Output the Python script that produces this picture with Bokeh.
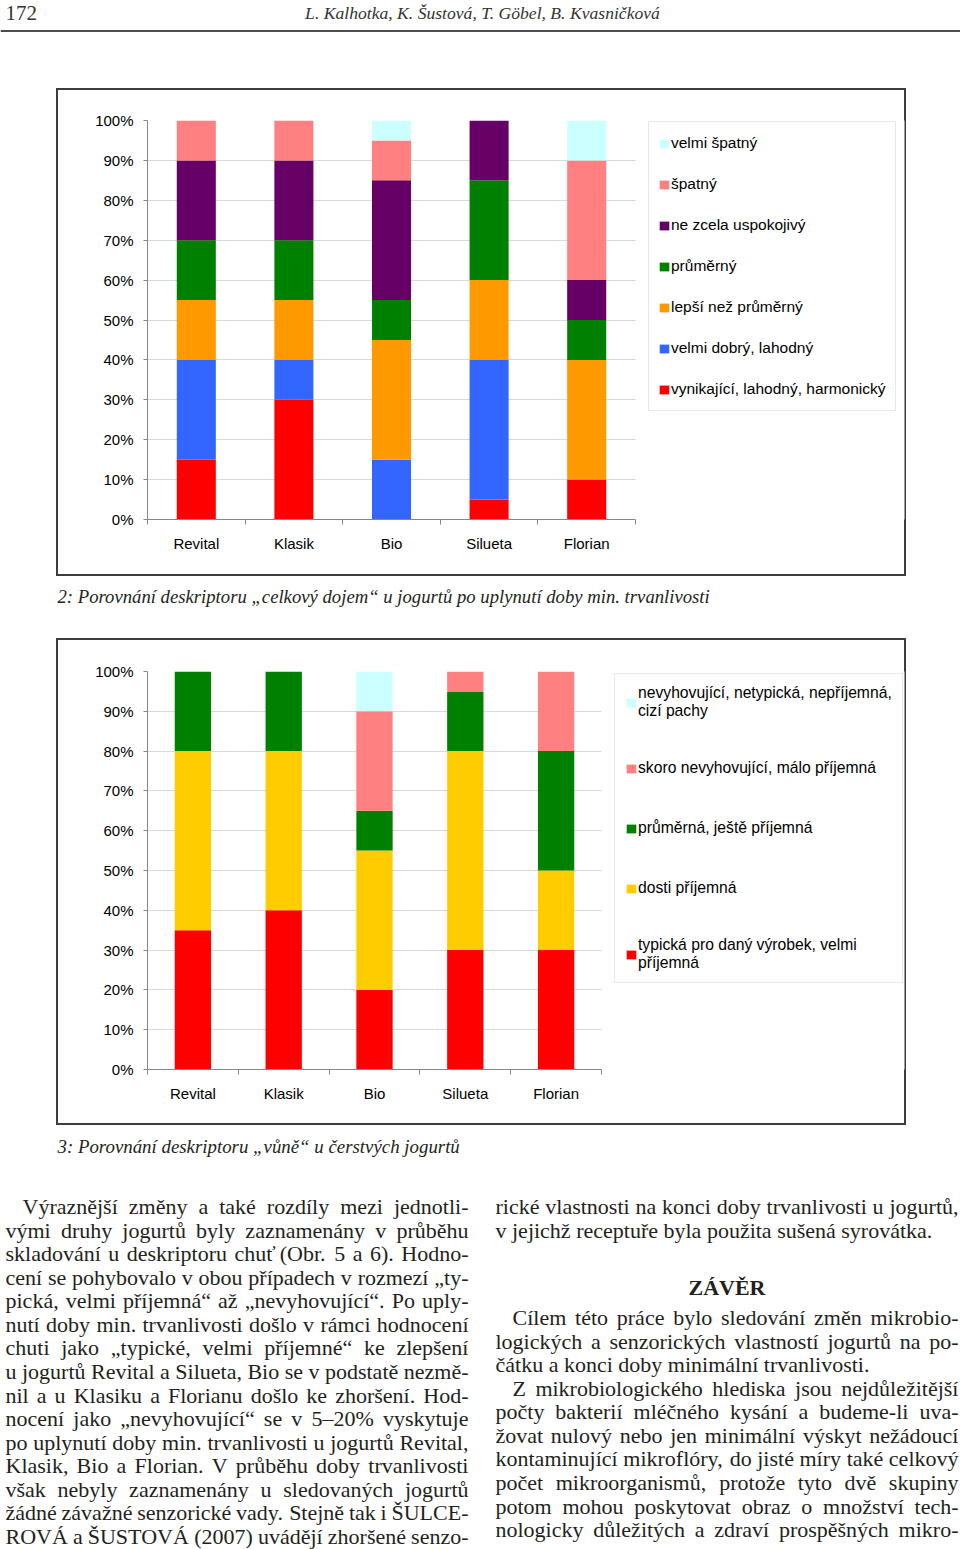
import unicodedata
from bokeh.plotting import figure
from bokeh.models import (Range1d, FixedTicker, PrintfTickFormatter, CustomJSTickFormatter,
                          Legend, LegendItem, Spacer, ColumnDataSource, Span, BoxAnnotation)
from bokeh.layouts import column, row
from bokeh.embed import file_html
from bokeh.resources import INLINE
from bokeh.core.properties import value

# ---------------- data ----------------
brands = ["Revital", "Klasik", "Bio", "Silueta", "Florian"]
pct_ticks = [0, 10, 20, 30, 40, 50, 60, 70, 80, 90, 100]

# Obr. 2 - "celkový dojem" po uplynutí doby min. trvanlivosti (% hodnocení, zdola nahoru)
dojem_labels = ["vynikající, lahodný, harmonický", "velmi dobrý, lahodný", "lepší než průměrný",
                "průměrný", "ne zcela uspokojivý", "špatný", "velmi špatný"]
dojem_colors = ["#FF0000", "#3366FF", "#FF9900", "#008000", "#660066", "#FF8080", "#CCFFFF"]
dojem_vynikajici = [15, 30, 0, 5, 10]
dojem_velmi_dobry = [25, 10, 15, 35, 0]
dojem_lepsi = [15, 15, 30, 20, 30]
dojem_prumerny = [15, 15, 10, 25, 10]
dojem_ne_zcela = [20, 20, 30, 15, 10]
dojem_spatny = [10, 10, 10, 0, 30]
dojem_velmi_spatny = [0, 0, 5, 0, 10]

# Obr. 3 - "vůně" u čerstvých jogurtů
vune_labels = ["typická pro daný výrobek, velmi\npříjemná", "dosti příjemná", "průměrná, ještě příjemná",
               "skoro nevyhovující, málo příjemná", "nevyhovující, netypická, nepříjemná,\ncizí pachy"]
vune_colors = ["#FF0000", "#FFCC00", "#008000", "#FF8080", "#CCFFFF"]
vune_typicka = [35, 40, 20, 30, 30]
vune_dosti = [45, 40, 35, 50, 20]
vune_prumerna = [20, 20, 10, 15, 30]
vune_skoro = [0, 0, 25, 5, 20]
vune_nevyhovujici = [0, 0, 10, 0, 0]

# ---------------- page texts ----------------
page_no = "172"
authors = "L. Kalhotka, K. Šustová, T. Göbel, B. Kvasničková"
caption2 = "2: Porovnání deskriptoru „celkový dojem“ u jogurtů po uplynutí doby min. trvanlivosti"
caption3 = "3: Porovnání deskriptoru „vůně“ u čerstvých jogurtů"
heading = "ZÁVĚR"
left_col = [
    ("Výraznější změny a také rozdíly mezi jednotli-", 1, 0),
    ("vými druhy jogurtů byly zaznamenány v průběhu", 0, 0),
    ("skladování u deskriptoru chuť (Obr. 5 a 6). Hodno-", 0, 0),
    ("cení se pohybovalo v obou případech v rozmezí „ty-", 0, 0),
    ("pická, velmi příjemná“ až „nevyhovující“. Po uply-", 0, 0),
    ("nutí doby min. trvanlivosti došlo v rámci hodnocení", 0, 0),
    ("chuti jako „typické, velmi příjemné“ ke zlepšení", 0, 0),
    ("u jogurtů Revital a Silueta, Bio se v podstatě nezmě-", 0, 0),
    ("nil a u Klasiku a Florianu došlo ke zhoršení. Hod-", 0, 0),
    ("nocení jako „nevyhovující“ se v 5–20% vyskytuje", 0, 0),
    ("po uplynutí doby min. trvanlivosti u jogurtů Revital,", 0, 0),
    ("Klasik, Bio a Florian. V průběhu doby trvanlivosti", 0, 0),
    ("však nebyly zaznamenány u sledovaných jogurtů", 0, 0),
    ("žádné závažné senzorické vady. Stejně tak i ŠULCE-", 0, 0),
    ("ROVÁ a ŠUSTOVÁ (2007) uvádějí zhoršené senzo-", 0, 0),
]
right_top = [
    ("rické vlastnosti na konci doby trvanlivosti u jogurtů,", 0, 0),
    ("v jejichž receptuře byla použita sušená syrovátka.", 0, 1),
]
right_bottom = [
    ("Cílem této práce bylo sledování změn mikrobio-", 1, 0),
    ("logických a senzorických vlastností jogurtů na po-", 0, 0),
    ("čátku a konci doby minimální trvanlivosti.", 0, 1),
    ("Z mikrobiologického hlediska jsou nejdůležitější", 1, 0),
    ("počty bakterií mléčného kysání a budeme-li uva-", 0, 0),
    ("žovat nulový nebo jen minimální výskyt nežádoucí", 0, 0),
    ("kontaminující mikroflóry, do jisté míry také celkový", 0, 0),
    ("počet mikroorganismů, protože tyto dvě skupiny", 0, 0),
    ("potom mohou poskytovat obraz o množství tech-", 0, 0),
    ("nologicky důležitých a zdraví prospěšných mikro-", 0, 0),
]

# ---------------- styles ----------------
SANS = "Liberation Sans"
SERIF = "Liberation Serif"
INK = "#231F20"
AXIS_C = "#868686"
GRID_C = "#D9D9D9"
BOX_C = "#3C3C3C"
PAGE_W = 960

BOX_STYLE = {"outline": "2px solid " + BOX_C, "outline-offset": "-2px",
             "box-shadow": "inset 0 0 0 2px " + BOX_C}

# Times-compatible advance widths (per 1000 em) for text layout
_W = {'a': 444, 'b': 500, 'c': 444, 'd': 500, 'e': 444, 'f': 333, 'g': 500, 'h': 500, 'i': 278,
      'j': 278, 'k': 500, 'l': 278, 'm': 778, 'n': 500, 'o': 500, 'p': 500, 'q': 500, 'r': 333,
      's': 389, 't': 278, 'u': 500, 'v': 500, 'w': 722, 'x': 500, 'y': 500, 'z': 444,
      'A': 722, 'B': 667, 'C': 667, 'D': 722, 'E': 611, 'F': 556, 'G': 722, 'H': 722, 'I': 333,
      'J': 389, 'K': 722, 'L': 611, 'M': 889, 'N': 722, 'O': 722, 'P': 556, 'Q': 722, 'R': 667,
      'S': 556, 'T': 611, 'U': 722, 'V': 722, 'W': 944, 'X': 722, 'Y': 722, 'Z': 611,
      ' ': 250, '.': 250, ',': 250, '-': 333, '(': 333, ')': 333, ':': 278, '„': 444, '“': 444,
      '–': 500, '%': 833}


def em(s):
    t = 0
    for ch in s:
        if ch in _W:
            t += _W[ch]
        elif ch.isdigit():
            t += 500
        else:
            t += _W.get(unicodedata.normalize("NFD", ch)[0], 500)
    return t / 1000.0


def chart(series, labels, colors, w, h, borders, plot_px, leg_loc, leg_spacing, leg_pad,
          leg_font, leg_line_h):
    bl, br, bt, bb = borders
    n = len(brands)
    frame_px = w - bl - br
    # the frame also hosts the legend box; the bars occupy the first plot_px pixels
    x_end = n * frame_px / plot_px
    p = figure(width=w, height=h, x_range=Range1d(0, x_end), y_range=Range1d(0, 100),
               output_backend="svg", toolbar_location=None,
               min_border_left=bl, min_border_right=br, min_border_top=bt, min_border_bottom=bb,
               styles=BOX_STYLE)
    p.outline_line_color = None
    p.background_fill_color = "white"
    p.border_fill_color = None
    keys = ["s%d" % i for i in range(len(series))]
    xs = [i + 0.5 for i in range(n)]
    data = {"x": xs}
    for k, s in zip(keys, series):
        data[k] = s
    src = ColumnDataSource(data)
    rends = p.vbar_stack(keys, x="x", width=0.4, source=src, fill_color=colors, line_color=None)

    xa = p.xaxis[0]
    xa.bounds = (0, n)
    xa.ticker = FixedTicker(ticks=xs, minor_ticks=list(range(n + 1)))
    xa.formatter = CustomJSTickFormatter(args=dict(names=brands), code="return names[Math.floor(tick)];")
    xa.major_tick_line_color = None
    xa.major_tick_out = 5
    xa.major_tick_in = 0
    xa.minor_tick_out = 5
    xa.minor_tick_in = 0
    xa.minor_tick_line_color = AXIS_C
    xa.axis_line_color = AXIS_C
    xa.major_label_standoff = 10
    xa.major_label_text_font = SANS
    xa.major_label_text_font_size = "15px"
    xa.major_label_text_color = "black"

    ya = p.yaxis[0]
    ya.ticker = FixedTicker(ticks=pct_ticks)
    ya.formatter = PrintfTickFormatter(format="%d%%")
    ya.minor_tick_line_color = None
    ya.major_tick_out = 4
    ya.major_tick_in = 0
    ya.major_tick_line_color = AXIS_C
    ya.axis_line_color = AXIS_C
    ya.major_label_standoff = 10
    ya.major_label_text_font = SANS
    ya.major_label_text_font_size = "15px"
    ya.major_label_text_color = "black"

    p.xgrid.visible = False
    g = p.ygrid[0]
    g.ticker = ya.ticker
    g.grid_line_color = GRID_C
    if "cross_bounds" in type(g).properties():
        g.cross_bounds = (0, n)
    else:
        p.add_layout(BoxAnnotation(left=n, fill_color="white", fill_alpha=1.0, line_color=None))

    items = [LegendItem(label=value(lab), renderers=[r]) for lab, r in zip(labels, rends)][::-1]
    leg = Legend(items=items, location=leg_loc, margin=0, padding=leg_pad, spacing=leg_spacing,
                 label_height=24, glyph_height=11, glyph_width=12, label_standoff=1,
                 border_line_color="#D4D4D4", border_line_width=1,
                 background_fill_color="white", background_fill_alpha=1.0,
                 label_text_font=SANS, label_text_font_size=leg_font, label_text_color="black",
                 label_text_line_height=leg_line_h)
    p.add_layout(leg)
    return p


def placed(p, left_gap, right_gap, h):
    return row(Spacer(width=left_gap, height=h), p, Spacer(width=right_gap, height=h))


def text_fig(y_top, y_bot):
    f = figure(width=PAGE_W, height=y_bot - y_top, x_range=Range1d(0, PAGE_W), y_range=Range1d(y_bot, y_top),
               output_backend="svg", toolbar_location=None, min_border=0,
               x_axis_location=None, y_axis_location=None)
    f.grid.visible = False
    f.outline_line_color = None
    f.background_fill_color = "white"
    f.border_fill_color = "white"
    return f


def put(f, xs, ys, texts, size, style="normal", align="left", color=INK, font=SERIF):
    f.text(x=xs, y=ys, text=texts, text_font=value(font), text_font_size=value("%.2fpx" % size),
           text_font_style=style, text_align=align, text_baseline="alphabetic", text_color=color)


def justify(lines, x_left, x_right, y0, pitch, fs, indent):
    xs, ys, ts = [], [], []
    for i, (txt, ind, last) in enumerate(lines):
        start = x_left + (indent if ind else 0)
        words = txt.split(" ")
        widths = [em(w) * fs for w in words]
        if last or len(words) < 2:
            gap = 0.25 * fs
        else:
            gap = ((x_right - start) - sum(widths)) / (len(words) - 1)
        x = start
        for wd, ww in zip(words, widths):
            xs.append(x)
            ys.append(y0 + i * pitch)
            ts.append(wd)
            x += ww + gap
    return xs, ys, ts


# ---------------- header (page y 0..88) ----------------
head = text_fig(0, 88)
put(head, [5], [12], [page_no], 21, color="#333333")
fs_auth = 345 / (em(authors) * 0.95)
put(head, [482], [12], [authors], fs_auth, style="italic", align="center", color="#333333")
head.add_layout(Span(location=30.5, dimension="width", line_color="#4D4D4D", line_width=2))

# ---------------- chart 1 (page y 88..576, x 56..906) ----------------
p1 = chart([dojem_vynikajici, dojem_velmi_dobry, dojem_lepsi, dojem_prumerny, dojem_ne_zcela,
            dojem_spatny, dojem_velmi_spatny], dojem_labels, dojem_colors,
           850, 488, (91, 2, 32, 57), 488, (501, 108), 17, 9, "15.5px", 1.2)
row1 = placed(p1, 56, 54, 488)

# ---------------- caption 1 (576..638) ----------------
cap1 = text_fig(576, 638)
put(cap1, [57], [596], [caption2], 619 / (em(caption2) * 0.95), style="italic")

# ---------------- chart 2 (638..1125) ----------------
p2 = chart([vune_typicka, vune_dosti, vune_prumerna, vune_skoro, vune_nevyhovujici],
           vune_labels, vune_colors, 850, 487, (91, 2, 33, 56), 454, (467, 86), 36, 10, "15.7px", 1.6)
row2 = placed(p2, 56, 54, 487)

# ---------------- caption 2 + body text (1125..1549) ----------------
body = text_fig(1125, 1549)
put(body, [57], [1146], [caption3], 376 / (em(caption3) * 0.95), style="italic")

LX0, LX1 = 5, 468
RX0, RX1 = 495, 958
IND = 17
cands = [22.0]
for lines, a, b in ((left_col, LX0, LX1), (right_top, RX0, RX1), (right_bottom, RX0, RX1)):
    for txt, ind, last in lines:
        if not last:
            words = txt.split(" ")
            avail = (b - a) - (IND if ind else 0)
            cands.append(avail / (em("".join(words)) + 0.14 * (len(words) - 1)))
fs_body = min(cands)

pitch = 23.57
xs, ys, ts = justify(left_col, LX0, LX1, 1206, pitch, fs_body, IND)
xr, yr, tr = justify(right_top, RX0, RX1, 1206, pitch, fs_body, IND)
xb, yb, tb = justify(right_bottom, RX0, RX1, 1317, pitch, fs_body, IND)
put(body, xs + xr + xb, ys + yr + yb, ts + tr + tb, fs_body)
put(body, [(RX0 + RX1) / 2], [1287], [heading], 22, style="bold", align="center")

layout = column(head, row1, cap1, row2, body)
open("out.html", "w").write(file_html(layout, INLINE, title="Obr. 2 a 3"))
